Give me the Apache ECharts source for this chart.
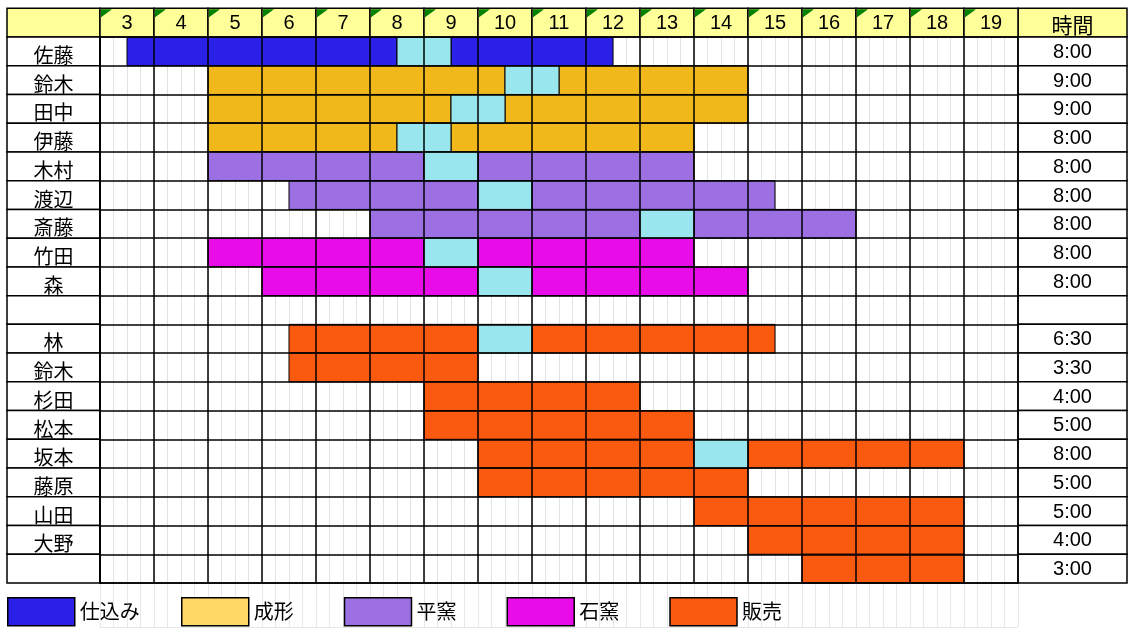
<!DOCTYPE html>
<html>
<head>
<meta charset="utf-8">
<script src="https://cdn.jsdelivr.net/npm/echarts@6/dist/echarts.min.js"></script>
<style>
html,body{margin:0;padding:0;background:#fff;}
#main{width:1137px;height:636px;}
</style>
</head>
<body>
<div id="main"></div>
<script>
// 時間帯（列見出し）
var hours = [3, 4, 5, 6, 7, 8, 9, 10, 11, 12, 13, 14, 15, 16, 17, 18, 19];
var hourLabels = ['3', '4', '5', '6', '7', '8', '9', '10', '11', '12', '13', '14', '15', '16', '17', '18', '19'];
// 行（名前）と合計時間
var names = ['佐藤', '鈴木', '田中', '伊藤', '木村', '渡辺', '斎藤', '竹田', '森', '',
	'林', '鈴木', '杉田', '松本', '坂本', '藤原', '山田', '大野', ''];
var totals = ['8:00', '9:00', '9:00', '8:00', '8:00', '8:00', '8:00', '8:00', '8:00', '',
	'6:30', '3:30', '4:00', '5:00', '8:00', '5:00', '5:00', '4:00', '3:00'];
var stages = ['仕込み', '成形', '平窯', '石窯', '販売'];
var breakName = '休憩';
// [行, 工程, 開始, 終了]
var shifts = [
	[0, '仕込み', 3.5, 8.5], [0, '休憩', 8.5, 9.5], [0, '仕込み', 9.5, 12.5],
	[1, '成形', 5, 10.5], [1, '休憩', 10.5, 11.5], [1, '成形', 11.5, 15],
	[2, '成形', 5, 9.5], [2, '休憩', 9.5, 10.5], [2, '成形', 10.5, 15],
	[3, '成形', 5, 8.5], [3, '休憩', 8.5, 9.5], [3, '成形', 9.5, 14],
	[4, '平窯', 5, 9], [4, '休憩', 9, 10], [4, '平窯', 10, 14],
	[5, '平窯', 6.5, 10], [5, '休憩', 10, 11], [5, '平窯', 11, 15.5],
	[6, '平窯', 8, 13], [6, '休憩', 13, 14], [6, '平窯', 14, 17],
	[7, '石窯', 5, 9], [7, '休憩', 9, 10], [7, '石窯', 10, 14],
	[8, '石窯', 6, 10], [8, '休憩', 10, 11], [8, '石窯', 11, 15],
	[10, '販売', 6.5, 10], [10, '休憩', 10, 11], [10, '販売', 11, 15.5],
	[11, '販売', 6.5, 10],
	[12, '販売', 9, 13],
	[13, '販売', 9, 14],
	[14, '販売', 10, 14], [14, '休憩', 14, 15], [14, '販売', 15, 19],
	[15, '販売', 10, 15],
	[16, '販売', 14, 19],
	[17, '販売', 15, 19],
	[18, '販売', 16, 19]
];

var colors = {'仕込み': '#2a20e8', '成形': '#f0b81b', '平窯': '#9c6fe3', '石窯': '#e80ce8', '販売': '#fa5a10', '休憩': '#9ae6ee'};
var legendColors = {'成形': '#ffd966'};
var jp = '"Noto Sans CJK JP"';
var num = '"Liberation Sans", Arial';

//セルの枠
function cell(x, y, w, h, fill){
	return {type: 'rect', shape: {x: x, y: y, width: w, height: h},
		style: {fill: fill, stroke: '#000', lineWidth: 1.5}};
}

//見出し・名前・合計の列
function renderTable(params, api){
	var r = api.value(0);
	var a = api.coord([3, r]);
	var b = api.coord([20, r]);
	var h = api.size([0, 1])[1];
	var head = r < 0;
	var fill = head ? '#ffff99' : '#fff';
	var kids = [cell(a[0] - 93, a[1], 93, h, fill), cell(b[0], b[1], 109, h, fill)];
	if(head){
		kids.push({type: 'text', style: {text: '時間', x: b[0] + 54.5, y: a[1] + h / 2 + 2,
			align: 'center', verticalAlign: 'middle', fontSize: 21, fontFamily: jp, fill: '#000'}});
		var w = api.size([1, 0])[0];
		hours.forEach(function(hr, i){
			var p = api.coord([hr, r]);
			kids.push(cell(p[0], p[1], w, h, fill));
			kids.push({type: 'polygon', shape: {points: [[p[0] + 1, p[1] + 1], [p[0] + 12, p[1] + 1], [p[0] + 1, p[1] + 9]]},
				style: {fill: '#008000'}});
			kids.push({type: 'text', style: {text: hourLabels[i], x: p[0] + w / 2, y: p[1] + h / 2 + 1,
				align: 'center', verticalAlign: 'middle', fontSize: 20, fontFamily: num, fill: '#000'}});
		});
	}else{
		kids.push({type: 'text', style: {text: names[r], x: a[0] - 46.5, y: a[1] + h / 2 + 4,
			align: 'center', verticalAlign: 'middle', fontSize: 20, fontFamily: jp, fill: '#000'}});
		kids.push({type: 'text', style: {text: totals[r], x: b[0] + 54.5, y: b[1] + h / 2 + 1,
			align: 'center', verticalAlign: 'middle', fontSize: 20, fontFamily: num, fill: '#000'}});
	}
	return {type: 'group', children: kids};
}

//工程の棒
function renderBar(params, api){
	var s = api.coord([api.value(1), api.value(0)]);
	var e = api.coord([api.value(2), api.value(0)]);
	var h = api.size([0, 1])[1];
	return {type: 'rect', shape: {x: s[0], y: s[1], width: e[0] - s[0], height: h},
		style: {fill: api.visual('color'), stroke: '#000', lineWidth: 1}};
}

var rows = [-1];
names.forEach(function(n, i){ rows.push(i); });

var series = [{
	name: 'table', type: 'custom', renderItem: renderTable, clip: false, z: 3,
	xAxisIndex: 0, yAxisIndex: 0, silent: true,
	encode: {x: 0, y: 0},
	data: rows.map(function(r){ return [r]; })
}];
stages.concat([breakName]).forEach(function(st){
	series.push({
		name: st, type: 'custom', renderItem: renderBar, z: 2,
		xAxisIndex: 0, yAxisIndex: 0,
		itemStyle: {color: colors[st], borderColor: '#000', borderWidth: 1},
		encode: {x: [1, 2], y: 0},
		data: shifts.filter(function(d){ return d[1] == st; }).map(function(d){ return [d[0], d[2], d[3]]; })
	});
});

function legendItem(s){
	var d = {name: s};
	if(legendColors[s]) d.itemStyle = {color: legendColors[s]};
	return d;
}
var legendBase = {
	top: 597, itemWidth: 67, itemHeight: 28, icon: 'rect',
	selectedMode: false, padding: 0,
	itemStyle: {borderColor: '#000', borderWidth: 1.5},
	textStyle: {fontSize: 20, fontFamily: jp, color: '#000', padding: [8, 0, 0, 0]}
};

var myChart = echarts.init(document.getElementById('main'));
myChart.setOption({
	animation: false,
	grid: [
		{left: 100, right: 119, top: 37, bottom: 53},
		{left: 100, right: 119, top: 583, bottom: 9}
	],
	xAxis: [
		{type: 'value', gridIndex: 0, position: 'top', min: 3, max: 20, interval: 0.25, z: 0,
			axisLabel: {show: false}, axisTick: {show: false}, axisLine: {show: false},
			splitLine: {show: true, lineStyle: {color: '#e2e2e2', width: 1}}},
		{type: 'value', gridIndex: 0, position: 'bottom', min: 3, max: 20, interval: 1, z: 5,
			axisLabel: {show: false}, axisTick: {show: false},
			axisLine: {show: true, lineStyle: {color: '#000', width: 1.5}},
			splitLine: {show: true, lineStyle: {color: '#000', width: 1.5}}},
		{type: 'value', gridIndex: 1, min: 3, max: 20, interval: 0.25, z: 0,
			axisLabel: {show: false}, axisTick: {show: false}, axisLine: {show: false},
			splitLine: {show: true, lineStyle: {color: '#e8e8e8', width: 1}}}
	],
	yAxis: [
		{type: 'value', gridIndex: 0, min: 0, max: 19, interval: 1, inverse: true, z: 5,
			axisLabel: {show: false}, axisTick: {show: false},
			axisLine: {show: true, lineStyle: {color: '#000', width: 1.5}},
			splitLine: {show: true, lineStyle: {color: '#000', width: 1.5}}},
		{type: 'value', gridIndex: 1, min: 0, max: 1, interval: 1, z: 0,
			axisLabel: {show: false}, axisTick: {show: false}, axisLine: {show: false},
			splitLine: {show: true, lineStyle: {color: '#e8e8e8', width: 1}}}
	],
	legend: [
		Object.assign({}, legendBase, {left: 7, data: stages.slice(0, 1).map(legendItem)}),
		Object.assign({}, legendBase, {left: 181, itemGap: 50, data: stages.slice(1).map(legendItem)})
	],
	series: series
});
</script>
</body>
</html>
